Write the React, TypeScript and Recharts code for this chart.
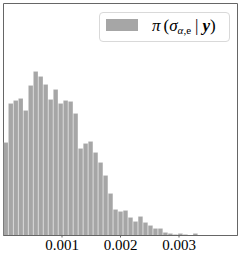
import {
  Bar,
  ComposedChart,
  Legend,
  ReferenceArea,
  XAxis,
  YAxis,
} from "recharts";

// histogram heights (plot px units), one per bin, left to right
const binHeights = [
  93, 132, 135, 137, 125, 150, 164, 159, 151, 136,
  146, 132, 135, 134, 122, 87, 92, 94, 83, 73,
  60, 42, 26, 24, 25, 18, 14, 19, 13, 10,
  7, 7, 3, 2, 1, 2, 1, 0.3, 2,
];
const BIN_START = 0;
const BIN_WIDTH = 0.0000853;

const xTicks = [0.001, 0.002, 0.003];
const X_DOMAIN: [number, number] = [0, 0.004];
const Y_DOMAIN: [number, number] = [0, 232];

const legendLabel = "posterior";

const W = 241;
const H = 257;
const MARGIN = { top: 3.5, right: 3.5, bottom: 0, left: 3.5 };
const PLOT_W = W - MARGIN.left - MARGIN.right;

const FRAME = "#666";
const BAR_FILL = "#a6a6a6";
const SERIF = "Liberation Serif";

const data = binHeights.map((h, i) => ({
  x: BIN_START + (i + 0.5) * BIN_WIDTH,
  h,
}));

const barPx = (BIN_WIDTH / (X_DOMAIN[1] - X_DOMAIN[0])) * PLOT_W;

function MathLegend() {
  return (
    <div
      style={{
        boxSizing: "border-box",
        width: 131,
        height: 30,
        border: "1px solid #d9d9d9",
        borderRadius: 4,
        background: "rgba(255,255,255,0.8)",
        position: "relative",
        fontFamily: SERIF,
      }}
    >
      <span
        style={{
          position: "absolute",
          left: 6,
          top: 5.5,
          width: 32,
          height: 12,
          background: BAR_FILL,
        }}
      />
      <span
        style={{
          position: "absolute",
          left: 52,
          top: 3,
          fontSize: 17,
          lineHeight: "20px",
          whiteSpace: "nowrap",
          color: "#000",
        }}
      >
        <i>π</i>
        <span style={{ marginLeft: 3 }}>(</span>
        <i>σ</i>
        <sub style={{ fontSize: 11, verticalAlign: -3 }}>
          <i>α</i>,e
        </sub>
        <span style={{ margin: "0 4px" }}>|</span>
        <b>
          <i>y</i>
        </b>
        )
      </span>
    </div>
  );
}

export default function App() {
  return (
    <div
      style={{
        position: "absolute",
        left: 0,
        top: 0,
        width: W,
        height: H,
        fontFamily: SERIF,
      }}
    >
      <ComposedChart width={W} height={H} data={data} margin={MARGIN}>
        <XAxis
          type="number"
          dataKey="x"
          domain={X_DOMAIN}
          ticks={xTicks}
          allowDataOverflow
          tickFormatter={(v: number) => v.toFixed(3)}
          height={21.5}
          tickSize={2}
          tickMargin={2}
          tick={{ fill: "#000", fontSize: 15, fontFamily: SERIF }}
          tickLine={{ stroke: FRAME }}
          axisLine={{ stroke: FRAME, strokeWidth: 1 }}
        />
        <YAxis type="number" domain={Y_DOMAIN} allowDataOverflow hide />
        <Legend
          layout="vertical"
          align="center"
          verticalAlign="middle"
          wrapperStyle={{ left: 99, top: 12, width: 131 }}
          content={() => <MathLegend />}
        />
        <Bar
          dataKey="h"
          name={legendLabel}
          fill={BAR_FILL}
          stroke="#ffffff"
          strokeOpacity={0.22}
          strokeWidth={0.5}
          barSize={barPx}
          isAnimationActive={false}
        />
        <ReferenceArea
          x1={X_DOMAIN[0]}
          x2={X_DOMAIN[1]}
          y1={Y_DOMAIN[0]}
          y2={Y_DOMAIN[1]}
          fill="none"
          stroke={FRAME}
          strokeWidth={1}
          ifOverflow="visible"
        />
      </ComposedChart>
    </div>
  );
}
